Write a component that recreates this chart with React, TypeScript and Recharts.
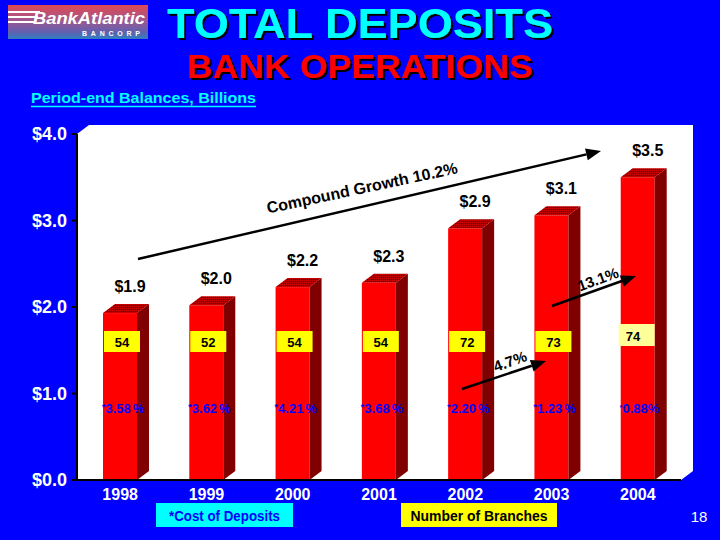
import React from 'react'
import { BarChart, Bar, XAxis, YAxis, LabelList } from 'recharts'

const years = ['1998', '1999', '2000', '2001', '2002', '2003', '2004']
const deposits = [1.93, 2.02, 2.23, 2.28, 2.91, 3.06, 3.5]
const branches = [54, 52, 54, 54, 72, 73, 74]
const costOfDeposits = ['3.58', '3.62', '4.21', '3.68', '2.20', '1.23', '0.88']
const yTicks = [0, 1, 2, 3, 4]

const FONT = '"Liberation Sans", Arial, Helvetica, sans-serif'
const W = 720
const H = 540
const PLOT = { left: 77, right: 681, top: 134, bottom: 480 }
const DX = 12
const DY = 9

const data = years.map((year, i) => ({
  year,
  deposits: deposits[i],
  branches: branches[i],
  cost: costOfDeposits[i],
}))

function Bar3D(props: any) {
  const { x, y, width, height } = props
  if (!height || height <= 0) return null
  const b = y + height
  const r = x + width
  return (
    <g>
      <rect x={x} y={y} width={width} height={height} fill="#FF0000" />
      <polygon points={`${r},${y} ${r + DX},${y - DY} ${r + DX},${b - DY} ${r},${b}`} fill="#800000" />
      <polygon points={`${x},${y} ${x + DX},${y - DY} ${r + DX},${y - DY} ${r},${y}`} fill="url(#topDots)" />
    </g>
  )
}

function ValueLabel(props: any) {
  const { x, y, width } = props.viewBox || props
  return (
    <text x={x + width / 2 + 10} y={y - 21} textAnchor="middle" fontFamily={FONT} fontWeight="bold" fontSize={16} fill="#000">
      ${Number(props.value).toFixed(1)}
    </text>
  )
}

function BranchLabel(props: any) {
  const { x } = props.viewBox || props
  const last = props.index === branches.length - 1
  const bx = last ? x - 2 : x + 1
  const by = last ? 324 : 331
  const bh = last ? 22 : 21
  return (
    <g>
      <rect x={bx} y={by} width={36} height={bh} fill={last ? '#FFFF99' : '#FFFF00'} />
      <text
        x={last ? bx + 7 : bx + 18}
        y={by + bh / 2 + 1}
        dominantBaseline="central"
        textAnchor={last ? 'start' : 'middle'}
        fontFamily={FONT}
        fontWeight="bold"
        fontSize={13}
        fill="#000"
      >
        {props.value}
      </text>
    </g>
  )
}

function CostLabel(props: any) {
  const { x } = props.viewBox || props
  const last = props.index === costOfDeposits.length - 1
  return (
    <text x={x - 1} y={413} fontFamily={FONT} fontWeight="bold" fontSize={13} fill="#0000FF">
      <tspan fontSize={last ? 7 : 9} dy={-3}>*</tspan>
      <tspan dy={3}>{props.value}</tspan>
      <tspan dx={last ? 0 : 2}>%</tspan>
    </text>
  )
}

function Arrow({ x1, y1, x2, y2 }: { x1: number; y1: number; x2: number; y2: number }) {
  const a = Math.atan2(y2 - y1, x2 - x1)
  const len = 15
  const half = 6
  const bx = x2 - len * Math.cos(a)
  const by = y2 - len * Math.sin(a)
  const px = -Math.sin(a) * half
  const py = Math.cos(a) * half
  return (
    <g>
      <line x1={x1} y1={y1} x2={bx} y2={by} stroke="#000" strokeWidth={2.5} />
      <polygon points={`${x2},${y2} ${bx + px},${by + py} ${bx - px},${by - py}`} fill="#000" />
    </g>
  )
}

function RotatedNote({ x, y, angle, size, children }: any) {
  return (
    <text
      x={x}
      y={y}
      transform={`rotate(${angle} ${x} ${y})`}
      textAnchor="middle"
      dominantBaseline="central"
      fontFamily={FONT}
      fontWeight="bold"
      fontSize={size}
      fill="#000"
    >
      {children}
    </text>
  )
}

function Logo() {
  return (
    <g>
      <defs>
        <linearGradient id="logoGrad" x1="0" y1="0" x2="0" y2="1">
          <stop offset="0%" stopColor="#E04850" />
          <stop offset="45%" stopColor="#A05890" />
          <stop offset="80%" stopColor="#6060B0" />
          <stop offset="100%" stopColor="#3080C0" />
        </linearGradient>
      </defs>
      <rect x={8} y={5} width={140} height={34} fill="url(#logoGrad)" />
      <rect x={8} y={11} width={32} height={2} fill="#fff" />
      <rect x={8} y={16} width={30} height={2} fill="#fff" />
      <rect x={8} y={21} width={28} height={2} fill="#fff" />
      <text x={33} y={24} fontFamily={FONT} fontWeight="bold" fontStyle="italic" fontSize={16} fill="#fff" textLength={112} lengthAdjust="spacingAndGlyphs">
        BankAtlantic
      </text>
      <text x={82} y={36} fontFamily={FONT} fontWeight="bold" fontSize={7} fill="#fff" textLength={58} lengthAdjust="spacing">
        BANCORP
      </text>
    </g>
  )
}

function ShadowText({ x, y, size, fill, len, children }: any) {
  return (
    <text
      x={x}
      y={y}
      fill={fill}
      fontFamily={FONT}
      fontWeight="bold"
      fontSize={size}
      textLength={len}
      lengthAdjust="spacingAndGlyphs"
      filter="url(#hardShadow)"
    >
      {children}
    </text>
  )
}

export default function App() {
  const plotPoly = [
    [PLOT.left, PLOT.top],
    [PLOT.left + DX, PLOT.top - DY],
    [PLOT.right + DX, PLOT.top - DY],
    [PLOT.right + DX, PLOT.bottom - DY],
    [PLOT.right, PLOT.bottom],
    [PLOT.left, PLOT.bottom],
  ]
    .map(p => p.join(','))
    .join(' ')

  return (
    <div style={{ position: 'absolute', left: 0, top: 0, width: W, height: H, background: '#0000FF', overflow: 'hidden' }}>
      <svg width={W} height={H} style={{ position: 'absolute', left: 0, top: 0 }}>
        <polygon points={plotPoly} fill="#fff" />
      </svg>

      <div style={{ position: 'absolute', left: 0, top: 0 }}>
        <BarChart
          width={W}
          height={H}
          data={data}
          margin={{ top: PLOT.top, right: W - PLOT.right, bottom: H - PLOT.bottom - 30, left: PLOT.left - 60 }}
        >
          <defs>
            <pattern id="topDots" width={2} height={2} patternUnits="userSpaceOnUse">
              <rect width={2} height={2} fill="#A00000" />
              <rect width={1} height={1} fill="#D00000" />
              <rect x={1} y={1} width={1} height={1} fill="#700000" />
            </pattern>
          </defs>
          <XAxis
            dataKey="year"
            height={30}
            axisLine={{ stroke: '#000', strokeWidth: 2 }}
            tickLine={false}
            tickMargin={3}
            tick={{ fill: '#fff', fontSize: 16, fontWeight: 'bold', fontFamily: FONT }}
          />
          <YAxis
            domain={[0, 4]}
            ticks={yTicks}
            interval={0}
            width={60}
            tickFormatter={(v: number) => `$${v.toFixed(1)}`}
            axisLine={{ stroke: '#000', strokeWidth: 2 }}
            tickLine={{ stroke: '#000', strokeWidth: 2 }}
            tickSize={5}
            tickMargin={5}
            tick={{ fill: '#fff', fontSize: 18, fontWeight: 'bold', fontFamily: FONT }}
          />
          <Bar dataKey="deposits" barSize={34} shape={(p: any) => <Bar3D {...p} />} isAnimationActive={false}>
            <LabelList dataKey="deposits" content={(p: any) => <ValueLabel {...p} />} />
            <LabelList dataKey="branches" content={(p: any) => <BranchLabel {...p} />} />
            <LabelList dataKey="cost" content={(p: any) => <CostLabel {...p} />} />
          </Bar>
        </BarChart>
      </div>

      <svg width={W} height={H} style={{ position: 'absolute', left: 0, top: 0, pointerEvents: 'none' }}>
        <defs>
          <filter id="hardShadow" x="-5%" y="-20%" width="110%" height="140%">
            <feDropShadow dx={2} dy={2} stdDeviation={0} floodColor="#000" floodOpacity={1} />
          </filter>
        </defs>
        <Logo />
        <ShadowText x={167} y={38} size={42} fill="#00FFFF" len={386}>TOTAL DEPOSITS</ShadowText>
        <ShadowText x={187} y={78} size={33} fill="#FF0000" len={346}>BANK OPERATIONS</ShadowText>
        <text x={31} y={103} fontFamily={FONT} fontWeight="bold" fontSize={15} fill="#00FFFF" textLength={225} lengthAdjust="spacingAndGlyphs">
          Period-end Balances, Billions
        </text>
        <line x1={31} y1={106.5} x2={256} y2={106.5} stroke="#00FFFF" strokeWidth={1.5} />

        <Arrow x1={138} y1={259} x2={601} y2={151} />
        <RotatedNote x={362} y={188} angle={-12} size={16}>Compound Growth 10.2%</RotatedNote>
        <Arrow x1={462} y1={389} x2={546} y2={361} />
        <RotatedNote x={510} y={361} angle={-20} size={15}>4.7%</RotatedNote>
        <Arrow x1={552} y1={306} x2={636} y2={276} />
        <RotatedNote x={598} y={279} angle={-20} size={15}>13.1%</RotatedNote>

        <rect x={156} y={503} width={137} height={24} fill="#00FFFF" />
        <text x={224.5} y={516} textAnchor="middle" dominantBaseline="central" fontFamily={FONT} fontWeight="bold" fontSize={14} fill="#0000FF" textLength={111} lengthAdjust="spacingAndGlyphs">
          *Cost of Deposits
        </text>
        <rect x={401} y={503} width={156} height={24} fill="#FFFF00" />
        <text x={479} y={516} textAnchor="middle" dominantBaseline="central" fontFamily={FONT} fontWeight="bold" fontSize={14} fill="#000" textLength={137} lengthAdjust="spacingAndGlyphs">
          Number of Branches
        </text>
        <text x={699} y={516} textAnchor="middle" dominantBaseline="central" fontFamily={FONT} fontSize={15} fill="#fff">
          18
        </text>
      </svg>
    </div>
  )
}
